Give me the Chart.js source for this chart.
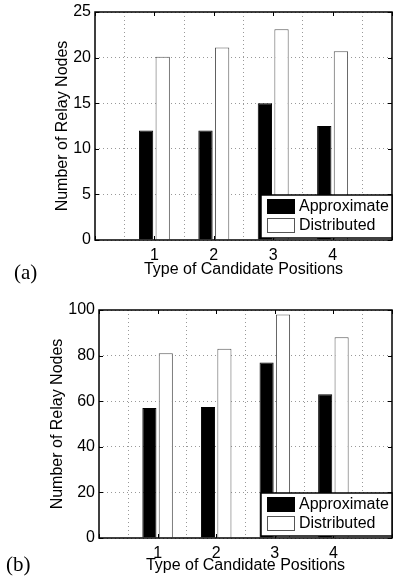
<!DOCTYPE html>
<html>
<head>
<meta charset="utf-8">
<script src="https://cdn.jsdelivr.net/npm/chart.js@4.4.0/dist/chart.umd.min.js"></script>
<style>
  body { margin: 0; background: #fff; width: 393px; height: 582px; position: relative; overflow: hidden; }
  .panel { position: absolute; left: 0; width: 393px; }
  #panelA { top: 0; height: 290px; }
  #panelB { top: 290px; height: 292px; }
  .tag { position: absolute; font-family: 'Liberation Serif', 'Times New Roman', serif; font-size: 21px; color: #000; line-height: 24px; }
</style>
</head>
<body>
<div class="panel" id="panelA"><canvas id="chartA"></canvas></div>
<div class="panel" id="panelB"><canvas id="chartB"></canvas></div>
<div class="tag" style="left:14px; top:260px">(a)</div>
<div class="tag" style="left:6px; top:552px">(b)</div>
<script>
// values
const positions = ['1', '2', '3', '4'];
const seriesNames = ['Approximate', 'Distributed'];
const approxA = [12, 12, 15, 12.5];
const distA = [20.1, 21.1, 23.1, 20.7];
const approxB = [57, 57.5, 77, 63];
const distB = [81, 83, 98, 88];
const yTicksA = [0, 5, 10, 15, 20, 25];
const yTicksB = [0, 20, 40, 60, 80, 100];

const FONT = "'Liberation Sans', Arial, Helvetica, sans-serif";

// box, inward tick marks and the legend inside the plot (matlab style)
const frame = {
  id: 'frame',
  afterDatasetsDraw(chart) {
    const { ctx, chartArea: a, scales: { x, y } } = chart;
    ctx.save();
    ctx.strokeStyle = '#000';
    ctx.lineWidth = 1;
    ctx.beginPath();
    y.ticks.forEach(t => {
      const py = Math.round(y.getPixelForValue(t.value)) + 0.5;
      ctx.moveTo(a.left, py); ctx.lineTo(a.left + 4, py);
      ctx.moveTo(a.right, py); ctx.lineTo(a.right - 4, py);
    });
    x.ticks.forEach((t, i) => {
      const px = Math.round(x.getPixelForTick(i)) + 0.5;
      ctx.moveTo(px, a.bottom); ctx.lineTo(px, a.bottom - 4);
      ctx.moveTo(px, a.top); ctx.lineTo(px, a.top + 4);
    });
    ctx.stroke();
    ctx.lineWidth = 1.5;
    ctx.strokeRect(a.left, a.top, a.right - a.left, a.bottom - a.top);

    // legend
    const w = 131, h = 43;
    const lx = a.right - w, ly = a.bottom - 2 - h;
    ctx.fillStyle = '#fff';
    ctx.fillRect(lx, ly, w, h);
    ctx.lineWidth = 1.5;
    ctx.strokeStyle = '#000';
    ctx.strokeRect(lx, ly, w, h);
    ctx.font = '16px ' + FONT;
    ctx.textBaseline = 'middle';
    ctx.textAlign = 'left';
    chart.data.datasets.forEach((ds, i) => {
      const sy = ly + 4 + i * 19;
      ctx.fillStyle = ds.backgroundColor;
      ctx.fillRect(lx + 6, sy, 28, 15);
      ctx.lineWidth = 1;
      ctx.strokeStyle = ds.borderColor;
      ctx.strokeRect(lx + 6.5, sy + 0.5, 27, 14);
      ctx.fillStyle = '#000';
      ctx.fillText(ds.label, lx + 38, sy + 8);
    });
    ctx.restore();
  }
};

function makeChart(id, approx, dist, yTicks, opts) {
  const labels = ['0', ...positions, '5'];
  return new Chart(document.getElementById(id), {
    type: 'bar',
    data: {
      labels: labels,
      datasets: [
        {
          label: seriesNames[0],
          data: [null, ...approx, null],
          backgroundColor: '#000',
          borderColor: '#000',
          borderWidth: 1,
          categoryPercentage: 0.56,
          barPercentage: 0.86
        },
        {
          label: seriesNames[1],
          data: [null, ...dist, null],
          backgroundColor: '#fff',
          borderColor: '#555',
          borderWidth: 1,
          categoryPercentage: 0.56,
          barPercentage: 0.86
        }
      ]
    },
    options: {
      responsive: true,
      maintainAspectRatio: false,
      animation: false,
      layout: { padding: { top: opts.top, right: 1, left: 0, bottom: 0 } },
      plugins: { legend: { display: false }, tooltip: { enabled: false } },
      scales: {
        x: {
          offset: false,
          grid: { color: '#999', lineWidth: 1, drawTicks: false },
          border: { display: false, dash: [1, 3] },
          ticks: {
            autoSkip: false,
            maxRotation: 0,
            padding: 6,
            color: '#000',
            font: { family: FONT, size: 16 },
            callback: (v, i) => (i === 0 || i === labels.length - 1) ? '' : labels[i]
          },
          title: {
            display: true,
            text: 'Type of Candidate Positions',
            color: '#000',
            font: { family: FONT, size: 16 },
            padding: { top: 0, bottom: opts.xTitlePad }
          },
          afterFit: s => {
            s.height = opts.xHeight;
            s.paddingLeft = 0;
            s.paddingRight = 0;
          }
        },
        y: {
          min: yTicks[0],
          max: yTicks[yTicks.length - 1],
          grid: { color: '#999', lineWidth: 1, drawTicks: false },
          border: { display: false, dash: [1, 3] },
          ticks: {
            stepSize: yTicks[1] - yTicks[0],
            padding: 4,
            color: '#000',
            font: { family: FONT, size: 16 }
          },
          title: {
            display: true,
            text: 'Number of Relay Nodes',
            color: '#000',
            font: { family: FONT, size: 16 },
            padding: { top: opts.yTitlePad, bottom: 0 }
          },
          afterFit: s => {
            s.width = opts.yWidth;
            s.paddingTop = 0;
            s.paddingBottom = 0;
          }
        }
      }
    },
    plugins: [frame]
  });
}

makeChart('chartA', approxA, distA, yTicksA, { top: 12, xHeight: 50, xTitlePad: 11, yWidth: 95, yTitlePad: 53 });
makeChart('chartB', approxB, distB, yTicksB, { top: 20, xHeight: 44, xTitlePad: 7, yWidth: 99, yTitlePad: 48 });
</script>
</body>
</html>
